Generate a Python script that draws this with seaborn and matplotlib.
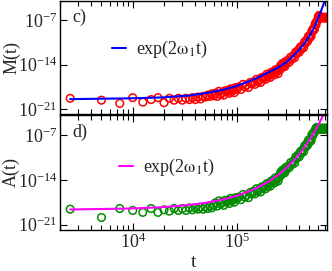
import numpy as np
import matplotlib
matplotlib.use("Agg")
import matplotlib.pyplot as plt
import matplotlib.ticker as mticker
import seaborn as sns

sns.set_theme(style="ticks")
plt.rcParams['font.family'] = ['Liberation Serif', 'DejaVu Serif']
plt.rcParams['mathtext.fontset'] = 'stix'

# time in units of 1000
t_k = [2.5, 5, 7.5, 10, 12.5, 15, 17.5, 20, 22.5, 25, 27.5, 30, 32.5, 35, 37.5, 40,
       42.5, 45, 47.5, 50, 52.5, 55, 57.5, 60, 62.5, 65, 67.5, 70, 72.5, 75, 77.5, 80,
       82.5, 85, 87.5, 90, 92.5, 95, 97.5, 100,
       105, 110, 115, 120, 125, 130, 135, 140, 145, 150, 155, 160, 165, 170, 175, 180,
       185, 190, 195, 200, 205, 210, 215, 220, 225, 230, 235, 240, 245, 250, 255, 260,
       265, 270, 275, 280, 285, 290, 295, 300,
       310, 320, 330, 340, 350, 360, 370, 380, 390, 400, 410, 420, 430, 440, 450,
       460, 470, 480, 490, 500, 510, 520, 530, 540, 550, 560, 570, 580, 590, 600,
       610, 620, 630, 640, 650, 660, 670, 680, 690, 700, 710, 720, 730, 740]

# log10 M(t), panel c)
logM = [-19.3, -19.6, -20.1, -19.2, -19.9, -19.5, -19.2, -20.0, -19.3, -19.6, -19.3, -19.6,
        -19.3, -19.5, -19.2, -19.5, -19.1, -19.4, -19.0, -19.1, -18.8, -19.0, -18.6, -18.9,
        -18.5, -19.0, -18.2, -18.7, -18.4, -18.8, -18.1, -18.3, -18.1, -18.5, -17.8, -18.2,
        -17.9, -18.4, -17.6, -17.9,
        -17.5, -17.9, -17.1, -17.5, -17.2, -17.6, -16.8, -17.0,
        -16.7, -17.1, -16.3, -16.7, -16.4, -16.8, -16.0, -16.2,
        -15.9, -16.3, -15.5, -15.9, -15.6, -16.0, -15.2, -15.4,
        -15.2, -15.6, -14.8, -15.2, -14.9, -15.4, -14.6, -14.8,
        -14.1, -14.5, -13.8, -14.2, -13.9, -14.3, -13.5, -13.8,
        -13.3, -13.6, -12.8, -13.1, -12.6, -12.9, -12.0, -12.2,
        -11.7, -12.0, -11.2, -11.5, -11.0, -11.3, -10.4, -10.6,
        -10.1, -10.3, -9.5, -9.8, -9.3, -9.5, -8.6, -8.7,
        -8.2, -8.4, -7.5, -7.7, -7.1, -7.0,
        -6.4, -6.2, -6.4, -6.6, -6.5, -6.6, -6.5, -6.6, -6.5, -6.6, -6.5, -6.6, -6.5, -6.6]

# log10 A(t), panel d)
logA = [-18.6, -19.9, -18.5, -18.8, -19.1, -18.5, -19.1, -18.7, -18.9, -18.5, -18.8, -18.5,
        -18.8, -18.4, -18.7, -18.4, -18.6, -18.3, -18.6, -18.2, -18.5, -18.1, -18.4, -18.0,
        -17.6, -18.1, -17.3, -17.8, -17.5, -18.0, -17.2, -17.5, -17.2, -17.7, -16.9, -17.3,
        -17.1, -17.5, -16.8, -17.0,
        -16.7, -17.1, -16.3, -16.7, -16.4, -16.8, -16.0, -16.2,
        -15.8, -16.2, -15.4, -15.8, -15.5, -15.9, -15.1, -15.3,
        -15.0, -15.4, -14.6, -15.0, -14.6, -15.0, -14.2, -14.4,
        -14.1, -14.5, -13.7, -14.1, -13.8, -14.2, -13.4, -13.5,
        -12.8, -13.2, -12.5, -12.9, -12.5, -12.9, -12.1, -12.4,
        -11.9, -12.1, -11.3, -11.6, -11.1, -11.4, -10.4, -10.6,
        -10.1, -10.4, -9.6, -9.8, -9.3, -9.6, -8.7, -8.9,
        -8.4, -8.6, -7.8, -8.1, -7.6, -7.9, -6.9, -7.1,
        -6.6, -6.6, -6.2, -5.9, -5.8, -6.0,
        -6.1, -6.0, -5.9, -6.1, -6.0, -5.9, -6.1, -6.0, -5.9, -6.1, -6.0, -5.9, -6.1, -6.0]

# exp(2 w_1 t) fit curves
fit_t_k = [2.5, 10, 20, 35, 50, 75, 100, 150, 200, 250, 300, 350, 400, 450, 500, 550,
           600, 650, 700, 710]
fit_logM = [-19.43, -19.3, -19.15, -18.85, -18.5, -17.95, -17.35, -16.25, -15.25, -14.45,
            -13.6, -12.6, -11.6, -10.6, -9.5, -8.3, -6.85, -5.45, -4.0, -3.75]
fit_logA = [-18.65, -18.49, -18.27, -17.94, -17.61, -17.07, -16.52, -15.43, -14.34, -13.25,
            -12.16, -11.07, -9.98, -8.9, -7.8, -6.72, -5.63, -4.54, -3.45, -3.23]

t = np.array(t_k) * 1000
ft = np.array(fit_t_k) * 1000

fig = plt.figure(figsize=(3.32, 2.71), dpi=100)
ax1 = fig.add_axes([0.181, 0.5775, 0.804, 0.4205])
ax2 = fig.add_axes([0.181, 0.1513, 0.804, 0.4244])

panels = [(ax1, logM, fit_logM, 'red', 'blue', 'M(t)', 'c)', (0.195, 0.57)),
          (ax2, logA, fit_logA, '#008b00', 'magenta', 'A(t)', 'd)', (0.222, 0.54))]

for ax, data, fit, c_pts, c_line, ylab, tag, legpos in panels:
    ax.set_xscale('log')
    ax.set_yscale('log')
    sns.scatterplot(x=t, y=10.0 ** np.array(data), ax=ax, marker='o', s=30,
                    facecolor='none', edgecolor=c_pts, linewidth=1.1, legend=False)
    sns.lineplot(x=ft, y=10.0 ** np.array(fit), ax=ax, color=c_line, linewidth=1.5,
                 sort=False, label='exp(2$\\mathrm{\\omega}_1$t)')
    ax.set_xlim(2000, 740000)
    ax.set_ylim(10 ** -21.86, 10 ** -3.85)
    ax.yaxis.set_major_locator(mticker.FixedLocator([1e-21, 1e-14, 1e-7]))
    ax.yaxis.set_minor_locator(mticker.NullLocator())
    ax.xaxis.set_major_locator(mticker.LogLocator(base=10))
    ax.xaxis.set_minor_locator(mticker.LogLocator(base=10, subs=np.arange(2, 10)))
    ax.xaxis.set_minor_formatter(mticker.NullFormatter())
    ax.tick_params(which='both', direction='in', top=True, right=True, labelsize=13,
                   pad=2, width=0.8, color='black')
    ax.tick_params(which='major', length=5)
    ax.tick_params(which='minor', length=3.5)
    for sp in ax.spines.values():
        sp.set_linewidth(1.0)
        sp.set_color('black')
    ax.set_ylabel(ylab, fontsize=13)
    ax.yaxis.set_label_coords(-0.15, 0.5)
    ax.text(0.045, 0.85, tag, transform=ax.transAxes, fontsize=13, va='center', ha='left')
    ax.legend(frameon=False, loc='center left', bbox_to_anchor=legpos, fontsize=13,
              handlelength=0.75, handletextpad=0.55, borderpad=0, borderaxespad=0)

ax1.tick_params(labelbottom=False)
ax1.set_xlabel('')
ax2.set_xlabel('t', fontsize=14)
ax2.xaxis.set_label_coords(0.5, -0.21)

fig.savefig('out.png', dpi=100)
